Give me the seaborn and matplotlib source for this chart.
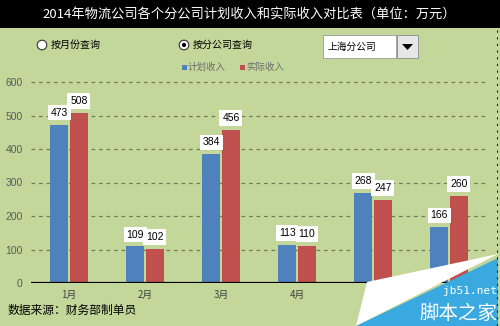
import matplotlib
matplotlib.use("Agg")
import matplotlib.pyplot as plt
import seaborn as sns
import pandas as pd
from matplotlib.patches import Rectangle, Polygon, Circle

months = ["1月", "2月", "3月", "4月", "5月", "6月"]
series = ["计划收入", "实际收入"]
plan = [473, 109, 384, 113, 268, 166]
actual = [508, 102, 456, 110, 247, 260]
yticks = [0, 100, 200, 300, 400, 500, 600]
colors = ["#4f81bd", "#c0504d"]
bg = "#c4d79b"

sns.set_theme(style="white")
plt.rcParams["font.family"] = ["Noto Sans CJK SC", "DejaVu Sans"]

df = pd.DataFrame({
    "month": months * 2,
    "series": [series[0]] * len(months) + [series[1]] * len(months),
    "value": plan + actual,
})

W, H = 500, 326
fig = plt.figure(figsize=(5.0, 3.26), dpi=100, facecolor=bg)
ax = fig.add_axes([31 / W, 1 - 283 / H, (487 - 31) / W, (283 - 82) / H])
ax.set_facecolor(bg)

sns.barplot(data=df, x="month", y="value", hue="series", hue_order=series,
            palette=colors, width=0.52, gap=0.12, ax=ax, legend=False,
            saturation=1, linewidth=0, edgecolor="none")

ax.set_ylim(0, 600)
ax.set_xlim(-0.5, 5.5)
ax.set_yticks(yticks)
ax.set_xlabel("")
ax.set_ylabel("")
for s in ax.spines.values():
    s.set_visible(False)
for y in yticks[1:]:
    ax.axhline(y, color="#6e7c58", lw=0.9, ls=(0, (3, 3)), zorder=0, clip_on=False)
ax.axhline(0, color="black", lw=1.6, zorder=3)
ax.tick_params(axis="both", length=0)
ax.tick_params(axis="y", labelsize=7.5, labelcolor="#5a5a5a", pad=6)
ax.tick_params(axis="x", labelsize=7, labelcolor="#404040", pad=5)
for lab in ax.get_yticklabels():
    lab.set_family(["Liberation Sans", "DejaVu Sans"])

vals = [plan, actual]
for cont, v in zip(ax.containers, vals):
    ax.bar_label(cont, labels=[str(x) for x in v], padding=5, fontsize=7.5,
                 family=["Liberation Sans", "DejaVu Sans"], color="black",
                 bbox=dict(fc="white", ec="none", pad=2), zorder=5)

# overlay axes in pixel coordinates for decorations
ov = fig.add_axes([0, 0, 1, 1], zorder=10)
ov.set_xlim(0, W)
ov.set_ylim(H, 0)
ov.axis("off")
ov.patch.set_alpha(0)

# title bar
ov.add_patch(Rectangle((0, 0), W, 28, fc="black", ec="none"))
ov.text(249, 14.5, "2014年物流公司各个分公司计划收入和实际收入对比表（单位：万元）",
        color="white", fontsize=9.5, ha="center", va="center")

# radio buttons
ov.add_patch(Circle((42, 45), 4.8, fc="white", ec="#333333", lw=0.8))
ov.text(51, 45, "按月份查询", fontsize=7.2, va="center", ha="left", color="black")
ov.add_patch(Circle((184, 45), 4.8, fc="white", ec="#333333", lw=0.8))
ov.add_patch(Circle((184, 45), 2.1, fc="black", ec="none"))
ov.text(193, 45, "按分公司查询", fontsize=7.2, va="center", ha="left", color="black")

# dropdown
ov.add_patch(Rectangle((323, 35), 73, 23, fc="white", ec="#9a9a9a", lw=0.6))
ov.text(328, 46.5, "上海分公司", fontsize=7, va="center", ha="left", color="black")
ov.add_patch(Rectangle((397, 35), 21, 23, fc="#e6e6e6", ec="#8a8a8a", lw=0.6))
ov.add_patch(Polygon([(402, 44), (413, 44), (407.5, 50)], closed=True, fc="black", ec="none"))

# legend
ov.add_patch(Rectangle((182, 65), 5, 5, fc=colors[0], ec="none"))
ov.text(188, 67, series[0], fontsize=6.8, va="center", ha="left", color="#6b6b6b")
ov.add_patch(Rectangle((240, 65), 5, 5, fc=colors[1], ec="none"))
ov.text(246, 67, series[1], fontsize=6.8, va="center", ha="left", color="#6b6b6b")

# footer
ov.text(8, 310, "数据来源：财务部制单员", fontsize=8.5, va="center", ha="left", color="black")

# right dashed edge
ov.plot([497, 497], [30, 326], color="#222222", lw=0.8, ls=(0, (2, 4)))

# watermark
ov.add_patch(Polygon([(367, 282), (498, 254), (356, 326)], closed=True, fc="white", ec="none"))
ov.add_patch(Polygon([(356, 326), (498, 258), (498, 326)], closed=True, fc="#3aa9df", ec="none"))
ov.text(497, 291, "jb51.net", fontsize=8, color="white", ha="right", va="center",
        family=["DejaVu Sans Mono"])
ov.text(497, 313, "脚本之家", fontsize=14, color="white", ha="right", va="center")

fig.savefig("out.png", dpi=100, facecolor=bg)
